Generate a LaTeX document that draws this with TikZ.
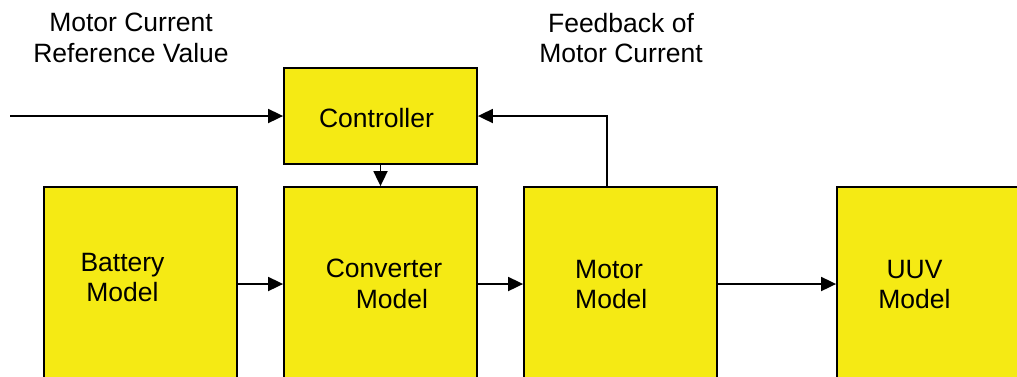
\documentclass[tikz,border=0pt]{standalone}
\usepackage{fontspec}
\setmainfont{Liberation Sans}
\usetikzlibrary{arrows.meta}
\definecolor{boxyellow}{RGB}{245,234,20}
\begin{document}
\begin{tikzpicture}[x=1pt,y=-1pt,
  blk/.style={draw=black, line width=1.8pt, fill=boxyellow, minimum width=193pt, inner sep=0pt},
  arr/.style={line width=1.8pt, -{Triangle[length=15pt,width=14pt]}},
  lbl/.style={inner sep=0pt, font=\fontsize{26.5}{30.5}\selectfont, align=center}]
\useasboundingbox (0,0) rectangle (1017,376);
\clip (0,0) rectangle (1017,376);
\fill[white] (0,0) rectangle (1017,376);
% blocks
\node[blk, minimum height=194pt] (bat) at (140.5,284) {};
\node[blk, minimum height=194pt] (conv) at (380.5,284) {};
\node[blk, minimum height=194pt] (mot) at (620.5,284) {};
\node[blk, minimum height=194pt] (uuv) at (933.5,284) {};
\node[blk, minimum height=96pt] (ctrl) at (380.5,116) {};
% texts
\node[lbl, anchor=north] (batT) at (122.5,253) {Battery\\Model};
\node[lbl, anchor=north] (convT) at (384,259) {Converter\\\hspace*{16pt}Model};
\node[lbl, anchor=north west, align=left] (motT) at (575,260) {Motor\\Model};
\node[lbl, anchor=north] (uuvT) at (914.5,260) {UUV\\Model};
\node[lbl, anchor=north] (ctrlT) at (376.5,108) {Controller};
\node[lbl, anchor=north] (refT) at (131,13) {Motor Current\\Reference Value};
\node[lbl, anchor=north] (fbT) at (621,13) {Feedback of\\Motor Current};
% connectors
\coordinate (in) at (10,116);
\draw[arr] (in) -- (ctrl.west);
\draw[arr] (ctrl.south) -- (conv.north);
\draw[arr] (bat) -- (conv);
\draw[arr] (conv) -- (mot);
\draw[arr] (mot) -- (uuv);
\draw[arr] ([xshift=-13.5pt]mot.north) |- (ctrl.east);
\end{tikzpicture}
\end{document}
